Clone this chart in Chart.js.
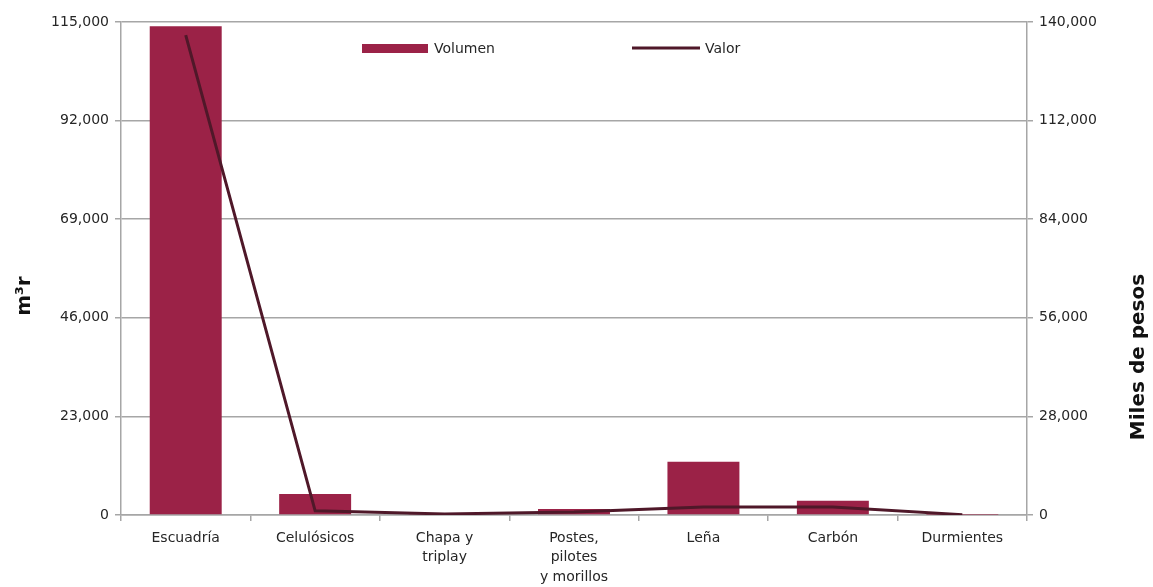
<!DOCTYPE html>
<html lang="es">
<head>
<meta charset="utf-8">
<title>Volumen y valor</title>
<script src="https://cdn.jsdelivr.net/npm/chart.js@4"></script>
<style>
  html, body { margin: 0; padding: 0; background: #fff; }
  #wrap { width: 1153px; height: 587px; }
</style>
</head>
<body>
<div id="wrap"><canvas id="chart"></canvas></div>
<script>
// ── Data ──────────────────────────────────────────────────
const categorias = ['Escuadría', 'Celulósicos', ['Chapa y', 'triplay'], ['Postes,', 'pilotes', 'y morillos'], 'Leña', 'Carbón', 'Durmientes'];
const volumen    = [114000, 4900, 100, 1400, 12400, 3300, 50];   // m³r
const valor      = [136300, 1200, 300, 850, 2300, 2300, 100];    // miles de pesos
const ticksVol   = [0, 23000, 46000, 69000, 92000, 115000];
const ticksValor = [0, 28000, 56000, 84000, 112000, 140000];

// ── Style ─────────────────────────────────────────────────
const BAR   = '#9b2247';
const LINE  = '#4f1829';
const GRID  = '#a6a6a6';
const TEXT  = '#262626';
const FONT  = "'DejaVu Sans', 'Noto Sans', sans-serif";
const fmt   = v => Number(v).toLocaleString('en-US');

// legend + axis titles drawn inside the plot, like the original
const overlay = {
  id: 'overlay',
  afterDraw(chart) {
    const { ctx } = chart;
    ctx.save();

    // legend
    ctx.font = '14px ' + FONT;
    ctx.textBaseline = 'middle';
    ctx.fillStyle = BAR;
    ctx.fillRect(362, 44, 66, 9);
    ctx.fillStyle = TEXT;
    ctx.fillText(chart.data.datasets[0].label, 434, 49);

    ctx.strokeStyle = LINE;
    ctx.lineWidth = 3;
    ctx.beginPath();
    ctx.moveTo(632, 48);
    ctx.lineTo(700, 48);
    ctx.stroke();
    ctx.fillText(chart.data.datasets[1].label, 705, 49);

    // axis titles (both read bottom → top)
    ctx.font = 'bold 20px ' + FONT;
    ctx.fillStyle = '#111';
    ctx.textAlign = 'center';
    [['m³r', 25, 296], ['Miles de pesos', 1139, 357]].forEach(([t, x, y]) => {
      ctx.save();
      ctx.translate(x, y);
      ctx.rotate(-Math.PI / 2);
      ctx.fillText(t, 0, 0);
      ctx.restore();
    });
    ctx.restore();
  }
};

new Chart(document.getElementById('chart'), {
  data: {
    labels: categorias,
    datasets: [
      {
        type: 'bar',
        label: 'Volumen',
        data: volumen,
        backgroundColor: BAR,
        barPercentage: 0.556,
        categoryPercentage: 1,
        yAxisID: 'y',
        order: 2,
      },
      {
        type: 'line',
        label: 'Valor',
        data: valor,
        borderColor: LINE,
        borderWidth: 3,
        pointRadius: 0,
        tension: 0,
        fill: false,
        yAxisID: 'y1',
        order: 1,
      }
    ]
  },
  options: {
    responsive: true,
    maintainAspectRatio: false,
    animation: false,
    layout: { padding: { top: 22, left: 0, right: 0, bottom: 0 } },
    plugins: {
      legend: { display: false },
      tooltip: { enabled: false },
    },
    scales: {
      x: {
        offset: true,
        grid: { offset: true, drawOnChartArea: false, drawTicks: true, tickLength: 6, color: GRID, lineWidth: 1.5 },
        border: { color: GRID, width: 1.5 },
        ticks: { color: TEXT, font: { family: FONT, size: 14, lineHeight: 1.42 }, padding: 7, maxRotation: 0, autoSkip: false },
        afterFit: s => { s.height = 72; },
      },
      y: {
        position: 'left',
        min: 0,
        max: 115000,
        afterBuildTicks: s => { s.ticks = ticksVol.map(v => ({ value: v })); },
        grid: { color: GRID, lineWidth: 1.5, tickLength: 6 },
        border: { color: GRID, width: 1.5 },
        ticks: { color: TEXT, font: { family: FONT, size: 14 }, padding: 6, callback: fmt },
        afterFit: s => { s.width = 121; },
      },
      y1: {
        position: 'right',
        min: 0,
        max: 140000,
        afterBuildTicks: s => { s.ticks = ticksValor.map(v => ({ value: v })); },
        grid: { drawOnChartArea: false, color: GRID, lineWidth: 1.5, tickLength: 6 },
        border: { color: GRID, width: 1.5 },
        ticks: { color: TEXT, font: { family: FONT, size: 14 }, padding: 6, callback: fmt },
        afterFit: s => { s.width = 126; },
      }
    }
  },
  plugins: [overlay]
});
</script>
</body>
</html>
